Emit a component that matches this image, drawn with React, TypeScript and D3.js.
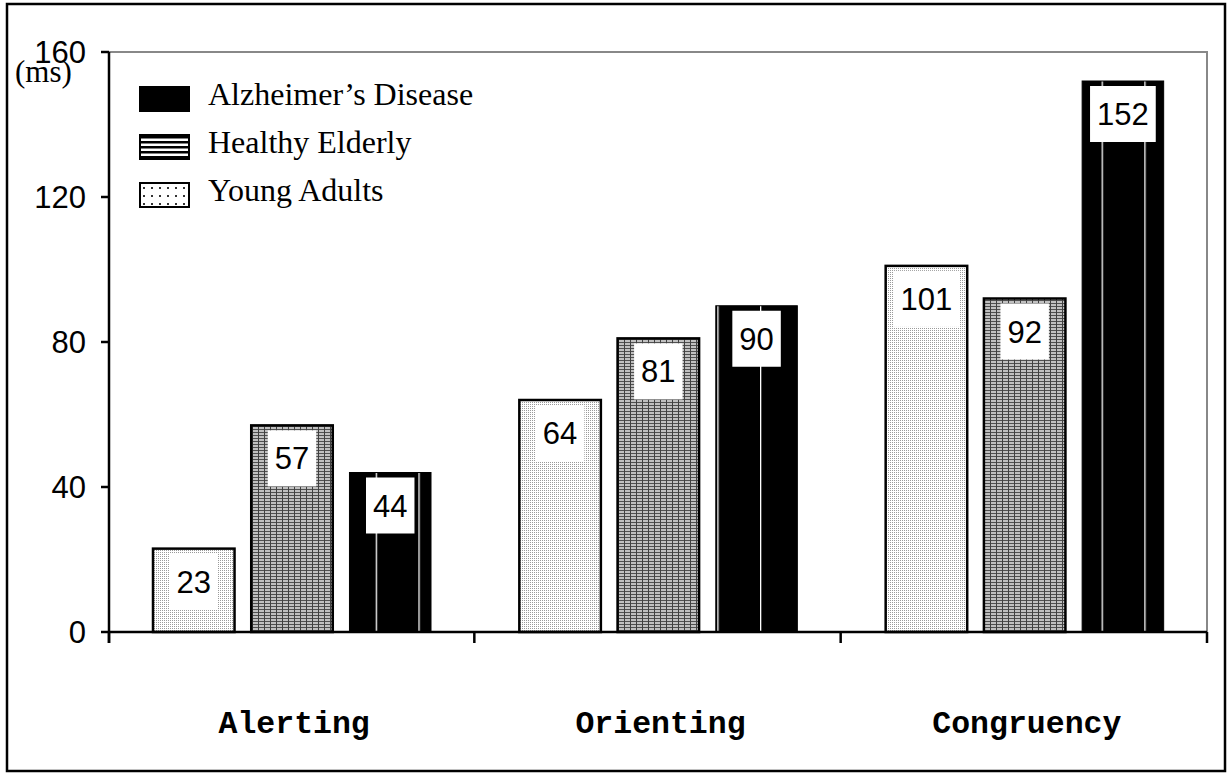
import React from "react";
import * as d3 from "d3";

// Reaction-time effects (ms) for the three attention networks
const categories = ["Alerting", "Orienting", "Congruency"];
const groups = ["Young Adults", "Healthy Elderly", "Alzheimer\u2019s Disease"];
const youngAdults = [23, 64, 101];
const healthyElderly = [57, 81, 92];
const alzheimers = [44, 90, 152];
const yTicks = [0, 40, 80, 120, 160];
const legendOrder = ["Alzheimer\u2019s Disease", "Healthy Elderly", "Young Adults"];

const W = 1228;
const H = 776;
const plot = { left: 109, right: 1207, top: 52, bottom: 632 };

const seriesValues: Record<string, number[]> = {
  "Young Adults": youngAdults,
  "Healthy Elderly": healthyElderly,
  "Alzheimer\u2019s Disease": alzheimers,
};

const fills: Record<string, string> = {
  "Young Adults": "url(#dots)",
  "Healthy Elderly": "url(#grid)",
  "Alzheimer\u2019s Disease": "url(#solid)",
};

export default function App() {
  const x = d3
    .scaleBand<string>()
    .domain(categories)
    .range([plot.left - 1, plot.right])
    .padding(0);
  const xInner = d3
    .scaleBand<string>()
    .domain(groups)
    .range([45, 323])
    .paddingInner(0.17);
  const y = d3.scaleLinear().domain([0, 160]).range([plot.bottom, plot.top]);

  const numFont = "Arial, 'Liberation Sans', sans-serif";
  const serif = "'Times New Roman', 'Liberation Serif', serif";
  const mono = "'Courier New', 'Liberation Mono', monospace";
  const labelSize = 31;

  const bars: React.ReactNode[] = [];
  const labels: React.ReactNode[] = [];
  categories.forEach((cat, ci) => {
    groups.forEach((g) => {
      const v = seriesValues[g][ci];
      const bx = (x(cat) as number) + (xInner(g) as number);
      const bw = xInner.bandwidth();
      const top = y(v);
      const isSolid = g === "Alzheimer\u2019s Disease";
      bars.push(
        <rect
          key={`${cat}-${g}`}
          x={bx}
          y={top}
          width={bw}
          height={y(0) - top}
          fill={fills[g]}
          stroke="#000"
          strokeWidth={isSolid ? 1 : 2.5}
        />
      );
      const txt = String(v);
      const boxW = txt.length * 0.556 * labelSize + 14;
      const boxH = 56;
      const cx = bx + bw / 2;
      const boxTop = top + 5;
      labels.push(
        <g key={`lbl-${cat}-${g}`}>
          <rect x={cx - boxW / 2} y={boxTop} width={boxW} height={boxH} fill="#fff" />
          <text
            x={cx}
            y={boxTop + boxH / 2 + 11}
            textAnchor="middle"
            fontFamily={numFont}
            fontSize={labelSize}
            fill="#000"
          >
            {txt}
          </text>
        </g>
      );
    });
  });

  const legendY = [87, 135, 183];

  return (
    <svg
      width={W}
      height={H}
      style={{ position: "absolute", left: 0, top: 0, display: "block", background: "#fff" }}
    >
      <defs>
        <pattern id="dots" width="2" height="2" patternUnits="userSpaceOnUse">
          <rect width="2" height="2" fill="#fff" />
          <rect width="1" height="1" fill="#9a9a9a" />
        </pattern>
        <pattern id="grid" width="6" height="3" patternUnits="userSpaceOnUse">
          <rect width="6" height="3" fill="#c0c0c0" />
          <rect width="6" height="1" fill="#505050" />
          <rect width="1" height="3" fill="#404040" />
        </pattern>
        <pattern id="solid" x="34.1" width="42.7" height="10" patternUnits="userSpaceOnUse">
          <rect width="42.7" height="10" fill="#000" />
          <rect width="1.3" height="10" fill="#fff" />
        </pattern>
        <pattern id="legDots" x="139" y="183" width="8" height="8" patternUnits="userSpaceOnUse">
          <rect width="8" height="8" fill="#fff" />
          <rect x="4" y="4" width="2" height="2" fill="#333" />
        </pattern>
        <pattern id="legStripes" x="139" y="136" width="10" height="5" patternUnits="userSpaceOnUse">
          <rect width="10" height="5" fill="#fff" />
          <rect y="0" width="10" height="2.5" fill="#000" />
        </pattern>
      </defs>

      {/* outer frame */}
      <rect x={7} y={4} width={1218} height={767} fill="none" stroke="#000" strokeWidth={2.5} />

      {/* plot area border (top and right) */}
      <path
        d={`M${plot.left},${plot.top}H${plot.right}V${plot.bottom}`}
        fill="none"
        stroke="#888"
        strokeWidth={2}
      />

      {bars}
      {labels}

      {/* y axis */}
      <line x1={plot.left} x2={plot.left} y1={plot.top} y2={plot.bottom + 11} stroke="#000" strokeWidth={2.5} />
      {yTicks.map((t) => (
        <g key={`yt-${t}`}>
          <line x1={plot.left - 8} x2={plot.left} y1={y(t)} y2={y(t)} stroke="#000" strokeWidth={2.5} />
          <text
            x={86}
            y={y(t) + 11}
            textAnchor="end"
            fontFamily={numFont}
            fontSize={labelSize}
            fill="#000"
          >
            {t}
          </text>
        </g>
      ))}
      <text x={15} y={82} fontFamily={serif} fontSize={31} fill="#000">
        (ms)
      </text>

      {/* x axis */}
      <line x1={plot.left} x2={plot.right} y1={plot.bottom} y2={plot.bottom} stroke="#000" strokeWidth={2.5} />
      {categories.concat(["end"]).map((c, i) => {
        const px = i < categories.length ? (x(c) as number) : plot.right;
        return (
          <line
            key={`xt-${i}`}
            x1={i === 0 ? plot.left : px}
            x2={i === 0 ? plot.left : px}
            y1={plot.bottom}
            y2={plot.bottom + 11}
            stroke="#000"
            strokeWidth={2.5}
          />
        );
      })}
      {categories.map((c) => (
        <text
          key={`xl-${c}`}
          x={(x(c) as number) + x.bandwidth() / 2 + 3}
          y={733}
          textAnchor="middle"
          fontFamily={mono}
          fontWeight="bold"
          fontSize={31.5}
          fill="#000"
        >
          {c}
        </text>
      ))}

      {/* legend */}
      {legendOrder.map((g, i) => {
        const ly = legendY[i];
        const fill =
          g === "Alzheimer\u2019s Disease" ? "#000" : g === "Healthy Elderly" ? "url(#legStripes)" : "url(#legDots)";
        return (
          <g key={`leg-${g}`}>
            <rect x={140} y={ly} width={49} height={24} fill={fill} stroke="#000" strokeWidth={2} />
            <text x={208} y={ly + 18} fontFamily={serif} fontSize={32} fill="#000">
              {g}
            </text>
          </g>
        );
      })}
    </svg>
  );
}
